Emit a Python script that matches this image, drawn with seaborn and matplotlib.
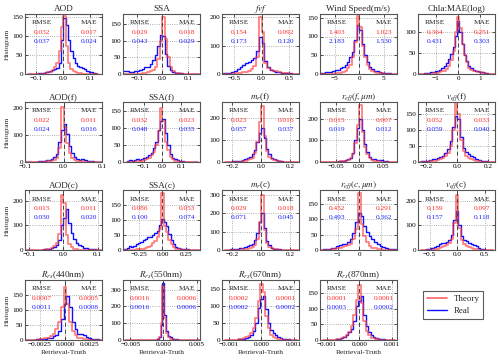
import numpy as np
import pandas as pd
import matplotlib
matplotlib.use("Agg")
import matplotlib.pyplot as plt
import seaborn as sns
from matplotlib.lines import Line2D
from matplotlib.ticker import FuncFormatter

# ---------------- data ----------------
titles = ["AOD", "SSA", "$fvf$", "Wind Speed(m/s)", "Chla:MAE(log)",
          "AOD(f)", "SSA(f)", "$m_r$(f)", "$r_{eff}(f,\\mu m)$", "$v_{eff}$(f)",
          "AOD(c)", "SSA(c)", "$m_r$(c)", "$r_{eff}(c,\\mu m)$", "$v_{eff}$(c)",
          "$R_{rs}$(440nm)", "$R_{rs}$(550nm)", "$R_{rs}$(670nm)", "$R_{rs}$(870nm)"]

rmse_theory = ["0.032", "0.029", "0.154", "1.403", "0.364",
               "0.022", "0.032", "0.023", "0.015", "0.052",
               "0.015", "0.086", "0.029", "0.452", "0.159",
               "0.0007", "0.0016", "0.0002", "0.0001"]
rmse_real = ["0.037", "0.043", "0.173", "2.183", "0.431",
             "0.024", "0.048", "0.057", "0.019", "0.059",
             "0.030", "0.100", "0.071", "0.493", "0.157",
             "0.0011", "0.0016", "0.0002", "0.0003"]
mae_theory = ["0.017", "0.018", "0.092", "1.023", "0.251",
              "0.011", "0.023", "0.016", "0.007", "0.033",
              "0.011", "0.053", "0.018", "0.291", "0.097",
              "0.0005", "0.0006", "0.0001", "0.0001"]
mae_real = ["0.024", "0.029", "0.120", "1.530", "0.303",
            "0.016", "0.035", "0.037", "0.012", "0.040",
            "0.020", "0.074", "0.045", "0.362", "0.118",
            "0.0008", "0.0006", "0.0002", "0.0002"]

# histogram bin ranges (low, high) for each panel
bin_ranges = [(-0.13, 0.13), (-0.15, 0.15), (-0.7, 0.7), (-8.0, 8.0), (-1.75, 1.75),
              (-0.1, 0.1), (-0.19, 0.19), (-0.25, 0.25), (-0.08, 0.08), (-0.25, 0.25),
              (-0.11, 0.11), (-0.4069, 0.4069), (-0.25, 0.25), (-1.84, 1.84), (-0.65, 0.65),
              (-0.004, 0.004), (-0.00585, 0.00555), (-0.0011, 0.0011), (-0.0011, 0.0011)]

aod_theory = [0,0,0,0,0,0,1,2,4,6,10,18,30,60,125,155,75,30,14,7,4,3,2,1,1,0,0,0,0,0]
aod_real = [0,0,1,1,2,2,3,4,6,8,10,12,15,30,90,148,130,90,60,42,30,22,18,15,12,8,5,4,3,1]
ssa_theory = [0,0,0,0,0,1,1,2,3,5,8,12,22,45,100,170,105,50,20,8,4,2,1,1,0,0,0,0,0,0]
ssa_real = [10,8,5,6,8,10,12,15,20,22,30,42,58,85,118,115,60,25,12,6,4,3,2,1,1,0,0,0,0,0]
fvf_theory = [0,0,1,1,2,3,4,6,8,12,18,30,60,200,150,40,20,15,12,10,8,5,3,2,1,1,0,0]
fvf_real = [2,3,5,8,12,18,25,32,38,42,48,58,80,130,110,45,25,15,10,8,6,4,3,2,2,1,1,0]
wind_theory = [0,0,0,0,1,1,2,3,4,6,9,15,25,45,85,155,125,75,45,25,14,8,5,3,2,2,1,1,0,0,0,0]
wind_real = [3,4,5,5,6,8,10,12,15,20,25,32,45,60,90,130,118,80,52,32,20,13,9,7,5,4,3,2,2,1,1,0]
chla_theory = [0,0,0,0,1,1,2,2,3,4,6,8,12,20,32,55,100,135,110,70,45,28,15,10,8,6,5,4,3,2,1,1,0,0,0]
chla_real = [0,1,2,3,3,4,5,6,8,10,14,18,25,35,48,65,90,125,100,70,45,30,20,14,10,8,6,5,4,3,2,1,1,0,0]

aodf_theory = [0,0,0,0,0,0,1,1,2,3,5,8,15,50,205,130,70,35,15,8,5,3,2,1,1,0,0,0,0,0]
aodf_real = [0,0,0,1,1,2,3,4,6,8,12,18,30,75,120,140,105,60,35,20,12,8,10,6,4,3,2,1,1,0]
ssaf_theory = [0,0,1,1,2,3,4,6,8,12,20,30,50,90,160,120,60,35,15,8,4,2,1,1,0,0,0,0,0,0]
ssaf_real = [2,5,3,6,8,6,10,12,15,20,28,40,60,95,120,128,85,50,25,12,8,5,3,2,1,1,0,0,0,0]
mrf_theory = [0,0,0,0,1,1,2,3,5,8,12,20,40,90,180,257,120,50,25,12,8,5,3,2,1,1,0,0,0,0]
mrf_real = [1,2,2,3,4,5,6,8,12,18,25,35,55,90,130,155,110,60,35,20,12,8,5,3,2,1,1,0,0,0]
reff_f_theory = [0,0,0,0,0,1,1,2,3,4,6,10,18,35,90,170,265,140,70,35,18,10,6,4,3,2,1,1,0,0,0,0]
reff_f_real = [0,0,0,1,1,1,2,3,4,5,8,12,20,40,100,160,200,150,85,45,25,15,12,10,8,10,6,4,2,1,1,0]
veff_f_theory = [0,0,1,1,2,3,4,6,8,12,18,28,50,100,190,150,70,35,20,12,8,5,3,2,1,1,0,0,0,0]
veff_f_real = [1,2,3,4,5,8,10,12,15,20,28,40,65,110,145,135,80,45,30,25,20,15,10,6,4,3,2,1,1,0]

aodc_theory = [0,0,0,0,0,1,1,2,3,5,8,15,30,65,225,190,60,25,12,6,4,2,1,1,0,0,0,0,0,0]
aodc_real = [0,0,1,1,1,2,2,3,4,6,8,12,20,40,100,130,165,110,70,45,30,22,15,10,8,5,4,3,2,1]
ssac_theory = [0,0,0,1,1,2,2,3,5,8,10,15,22,30,45,70,190,80,60,35,20,10,5,3,2,1,1,1,0,0,0,0,0]
ssac_real = [3,6,12,10,15,20,22,28,32,38,42,45,50,58,65,85,105,95,80,55,35,20,10,6,4,3,2,2,1,1,0,0,0]
mrc_theory = [0,0,0,0,1,1,2,3,4,6,10,15,25,60,150,300,110,40,18,10,6,4,2,1,1,0,0,0,0,0]
mrc_real = [1,2,3,4,5,8,10,12,15,20,25,35,55,95,150,200,120,50,25,12,8,5,3,2,1,1,0,0,0,0]
reff_c_theory = [0,0,1,1,2,3,5,7,10,12,15,20,35,70,185,85,45,25,12,8,5,3,2,1,1,0,0,0,0]
reff_c_real = [1,2,3,4,6,8,12,16,18,20,25,35,55,90,122,110,80,60,45,35,25,18,14,10,7,4,3,2,1]
veff_c_theory = [0,0,1,1,2,3,5,8,12,15,20,28,45,110,225,90,40,25,18,12,8,5,3,2,1,1,0,0,0]
veff_c_real = [1,2,3,5,8,12,18,25,28,30,32,40,60,120,160,100,55,40,35,30,25,20,15,10,6,4,2,1,0]

r440_theory = [0,0,0,1,1,2,3,5,8,12,20,35,60,110,175,120,60,30,15,8,5,3,2,1,1,0,0,0,0]
r440_real = [0,0,1,1,2,2,3,4,6,8,12,18,30,70,120,145,110,60,35,20,20,15,10,6,4,3,2,1,0]
r550_theory = [0,0,0,0,0,0,0,0,0,0,0,0,0,0,0,1,5,20,100,325,130,40,15,8,4,2,1,0,0,0,0,0,0,0,0,0,0,0]
r550_real = [0,0,0,0,0,0,0,0,0,0,0,0,0,0,1,2,4,15,90,340,150,55,25,15,8,5,3,2,1,0,0,0,0,0,0,0,0,0]
r670_theory = [0,0,0,0,1,2,3,5,8,12,20,35,65,115,165,140,70,35,15,8,5,3,2,1,1,0,0,0,0]
r670_real = [0,0,0,1,1,2,3,4,6,10,15,25,50,95,120,130,90,50,30,20,15,10,6,4,3,2,1,1,0]
r870_theory = [0,0,0,0,1,2,3,5,10,15,25,45,80,130,178,120,60,30,15,8,5,3,2,1,1,0,0,0,0]
r870_real = [0,0,0,1,1,2,4,6,10,15,25,35,60,110,125,140,80,45,25,15,10,6,4,3,2,1,1,0,0]

theory_sets = [aod_theory, ssa_theory, fvf_theory, wind_theory, chla_theory,
               aodf_theory, ssaf_theory, mrf_theory, reff_f_theory, veff_f_theory,
               aodc_theory, ssac_theory, mrc_theory, reff_c_theory, veff_c_theory,
               r440_theory, r550_theory, r670_theory, r870_theory]
real_sets = [aod_real, ssa_real, fvf_real, wind_real, chla_real,
             aodf_real, ssaf_real, mrf_real, reff_f_real, veff_f_real,
             aodc_real, ssac_real, mrc_real, reff_c_real, veff_c_real,
             r440_real, r550_real, r670_real, r870_real]

x_limits = [(-0.143, 0.145), (-0.154, 0.148), (-0.72, 0.68), (-8.0, 7.7), (-1.8, 1.65),
            (-0.1, 0.1), (-0.21, 0.2), (-0.27, 0.26), (-0.083, 0.08), (-0.254, 0.243),
            (-0.112, 0.113), (-0.42, 0.4), (-0.27, 0.26), (-1.84, 1.77), (-0.71, 0.69),
            (-0.004, 0.0037), (-0.0061, 0.0055), (-0.0012, 0.00115), (-0.0012, 0.00115)]
x_ticks = [[-0.1, 0, 0.1], [-0.1, 0, 0.1], [-0.5, 0, 0.5], [-5, 0, 5], [-1, 0, 1],
           [-0.1, 0, 0.1], [-0.1, 0, 0.1], [-0.2, 0, 0.2], [-0.05, 0, 0.05], [-0.2, 0, 0.2],
           [-0.1, 0, 0.1], [-0.25, 0, 0.25], [-0.2, 0, 0.2], [-1, 0, 1], [-0.5, 0, 0.5],
           [-0.0025, 0, 0.0025], [-0.005, 0, 0.005], [-0.001, 0, 0.001], [-0.001, 0, 0.001]]
x_formats = ["%.1f", "%.1f", "%.1f", "%d", "%d",
             "%.1f", "%.1f", "%.1f", "%.2f", "%.1f",
             "%.1f", "%.2f", "%.1f", "%d", "%.1f",
             "%.4f", "%.3f", "%.3f", "%.3f"]
y_tops = [159, 180, 212, 160, 142,
          222, 177, 273, 279, 189,
          244, 200, 327, 196, 244,
          198, 358, 176, 193]
y_ticks = [[0, 50, 100, 150], [0, 50, 100, 150], [0, 100, 200], [0, 50, 100, 150], [0, 50, 100],
           [0, 100, 200], [0, 50, 100, 150], [0, 100, 200], [0, 100, 200], [0, 50, 100, 150],
           [0, 100, 200], [0, 50, 100, 150], [0, 100, 200, 300], [0, 50, 100, 150], [0, 100, 200],
           [0, 50, 100, 150], [0, 100, 200, 300], [0, 50, 100, 150], [0, 50, 100, 150]]

legend_labels = ["Theory", "Real"]

# ---------------- style ----------------
sns.set_style("ticks")
plt.rcParams["font.family"] = ["Liberation Serif", "DejaVu Serif"]
plt.rcParams["mathtext.fontset"] = "stix"
plt.rcParams["axes.unicode_minus"] = True

RED = "#ff3b3b"
BLUE = "#1010ff"
TXT_RED = "#ff2a2a"
TXT_BLUE = "#2020ff"

fig = plt.figure(figsize=(5.0, 3.61), dpi=100)

col_lefts = [25, 123, 222, 320, 418]
row_tops = [14, 102, 190, 280]
ax_w, ax_h = 77, 60
W, H = 500.0, 361.0


def make_fmt(fmt):
    return FuncFormatter(lambda v, p: (fmt % v).replace("-", "\u2212"))


for i in range(19):
    r, c = divmod(i, 5)
    rect = [col_lefts[c] / W, 1 - (row_tops[r] + ax_h) / H, ax_w / W, ax_h / H]
    ax = fig.add_axes(rect)
    lo, hi = bin_ranges[i]
    nb = len(theory_sets[i])
    edges = np.linspace(lo, hi, nb + 1)
    centers = 0.5 * (edges[:-1] + edges[1:])
    df = pd.DataFrame({"value": centers,
                       "theory": np.asarray(theory_sets[i], dtype=float),
                       "real": np.asarray(real_sets[i], dtype=float)})
    sns.histplot(data=df, x="value", weights="real", bins=nb, binrange=(lo, hi),
                 element="step", fill=False, color=BLUE, linewidth=1.0, ax=ax)
    sns.histplot(data=df, x="value", weights="theory", bins=nb, binrange=(lo, hi),
                 element="step", fill=False, color=RED, linewidth=1.3, alpha=0.65, ax=ax)
    ax.axvline(0, color="#444444", ls=(0, (4, 3)), lw=0.7, zorder=5)
    ax.set_xlim(*x_limits[i])
    ax.set_ylim(0, y_tops[i])
    ax.set_xticks(x_ticks[i])
    ax.xaxis.set_major_formatter(make_fmt(x_formats[i]))
    ax.set_yticks(y_ticks[i])
    ax.grid(True, ls=":", color="#9a9a9a", lw=0.6)
    ax.set_axisbelow(True)
    ax.tick_params(direction="in", length=2, width=0.6, labelsize=5.2, pad=1.5,
                   top=True, right=True, colors="#333333", labelcolor="black")
    for s in ax.spines.values():
        s.set_color("#555555")
        s.set_linewidth(0.8)
    ax.set_title(titles[i], fontsize=6.6, pad=2)
    ax.set_ylabel("Histogram" if c == 0 else "", fontsize=5.3, labelpad=2)
    ax.set_xlabel("Retrieval-Truth" if r == 3 else "", fontsize=5.3, labelpad=2)
    fs = 5.3
    ax.text(0.22, 0.85, "RMSE", transform=ax.transAxes, ha="center", va="center", fontsize=fs)
    ax.text(0.83, 0.85, "MAE", transform=ax.transAxes, ha="center", va="center", fontsize=fs)
    ax.text(0.22, 0.69, rmse_theory[i], transform=ax.transAxes, ha="center", va="center",
            fontsize=fs, color=TXT_RED)
    ax.text(0.83, 0.69, mae_theory[i], transform=ax.transAxes, ha="center", va="center",
            fontsize=fs, color=TXT_RED)
    ax.text(0.22, 0.54, rmse_real[i], transform=ax.transAxes, ha="center", va="center",
            fontsize=fs, color=TXT_BLUE)
    ax.text(0.83, 0.54, mae_real[i], transform=ax.transAxes, ha="center", va="center",
            fontsize=fs, color=TXT_BLUE)

handles = [Line2D([], [], color=RED, lw=1.2, alpha=0.8),
           Line2D([], [], color=BLUE, lw=1.0)]
leg = fig.legend(handles, legend_labels, loc="lower left",
                 bbox_to_anchor=(419 / W, 1 - 323 / H), fontsize=6.4,
                 frameon=True, fancybox=False, edgecolor="#333333",
                 handlelength=2.2, borderpad=0.4, labelspacing=0.4)
leg.get_frame().set_linewidth(0.8)

fig.savefig("out.png", dpi=100)
